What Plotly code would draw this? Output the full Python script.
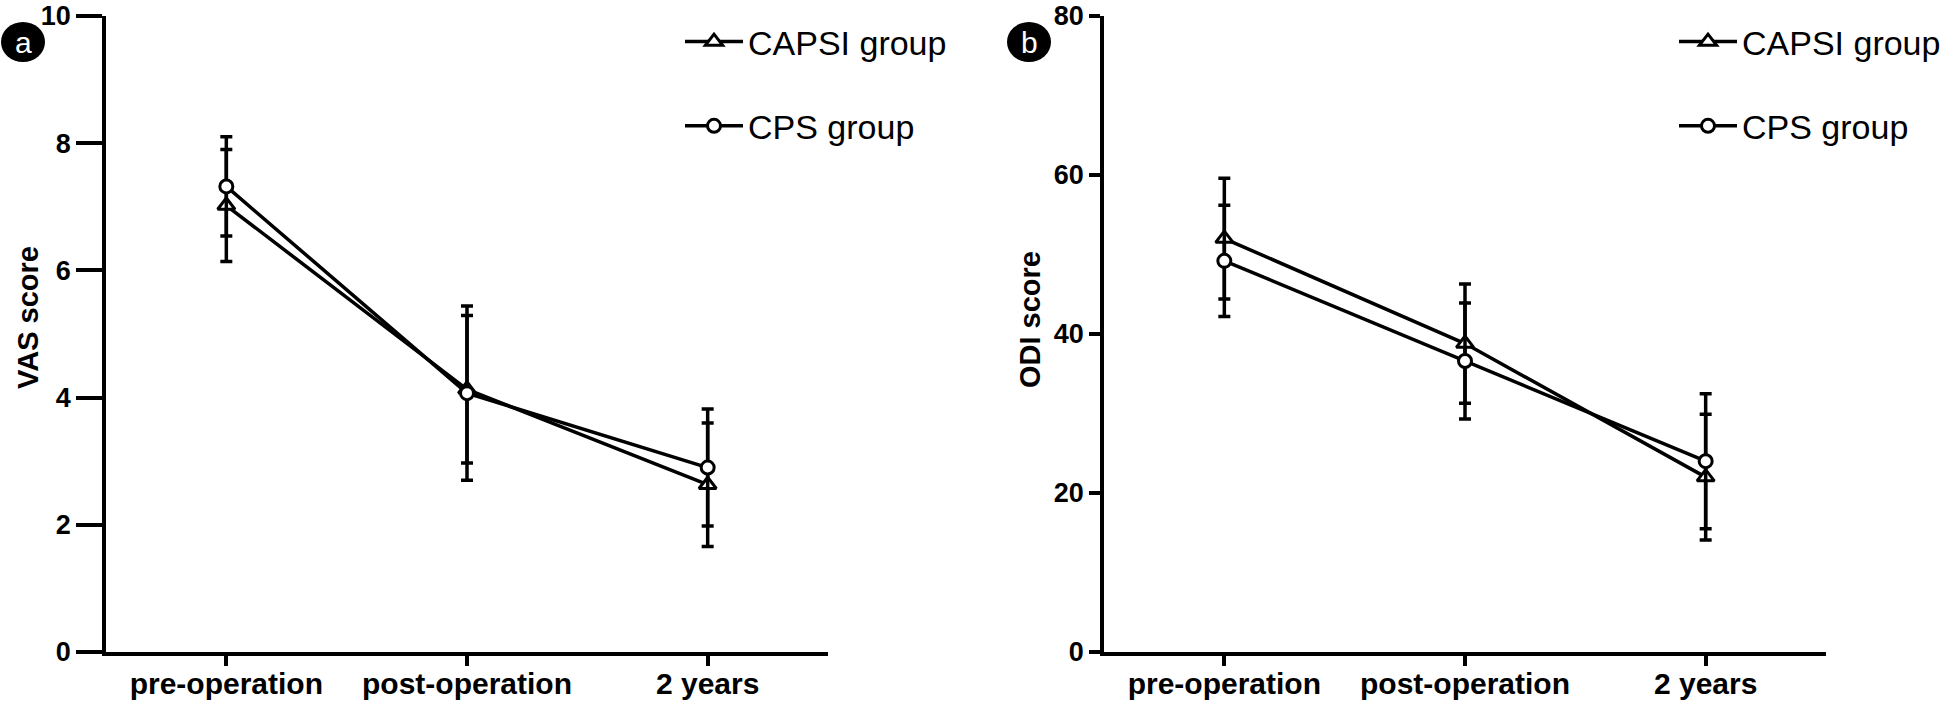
import plotly.graph_objects as go

# time points on the x axis
timepoints = ["pre-operation", "post-operation", "2 years"]
tp_index = [0, 1, 2]

# VAS score (mean and sd)
vas_capsi = [7.02, 4.13, 2.63]
vas_capsi_sd = [0.88, 1.16, 0.97]
vas_cps = [7.32, 4.07, 2.90]
vas_cps_sd = [0.78, 1.37, 0.92]

# ODI score (mean and sd)
odi_capsi = [52.0, 38.8, 22.0]
odi_capsi_sd = [7.6, 7.5, 7.9]
odi_cps = [49.2, 36.6, 24.0]
odi_cps_sd = [7.0, 7.3, 8.5]

W, H = 1946, 705
FONT = "Liberation Sans, Arial, sans-serif"

tri = dict(symbol="triangle-up", size=15, color="white", line=dict(color="black", width=3))
circ = dict(symbol="circle", size=13, color="white", line=dict(color="black", width=3))
ln = dict(color="black", width=3.5)


def err(sd):
    return dict(type="data", array=sd, visible=True, color="black", thickness=3.5, width=6)


fig = go.Figure()

##panel a
fig.add_trace(go.Scatter(x=tp_index, y=vas_capsi, error_y=err(vas_capsi_sd), mode="lines+markers",
                         name="CAPSI group", line=ln, marker=tri,
                         xaxis="x", yaxis="y", legend="legend", legendgroup="a1"))
fig.add_trace(go.Scatter(x=tp_index, y=vas_cps, error_y=err(vas_cps_sd), mode="lines+markers",
                         name="CPS group", line=ln, marker=circ,
                         xaxis="x", yaxis="y", legend="legend", legendgroup="a2"))

##panel b
fig.add_trace(go.Scatter(x=tp_index, y=odi_capsi, error_y=err(odi_capsi_sd), mode="lines+markers",
                         name="CAPSI group", line=ln, marker=tri,
                         xaxis="x2", yaxis="y2", legend="legend2", legendgroup="b1"))
fig.add_trace(go.Scatter(x=tp_index, y=odi_cps, error_y=err(odi_cps_sd), mode="lines+markers",
                         name="CPS group", line=ln, marker=circ,
                         xaxis="x2", yaxis="y2", legend="legend2", legendgroup="b2"))

ydom = [(H - 652) / H, (H - 16) / H]


def xax(x0, x1, anchor):
    return dict(domain=[x0 / W, x1 / W], anchor=anchor, range=[-0.5, 2.5], automargin=False,
                tickvals=tp_index, ticktext=timepoints, ticks="outside", ticklen=10,
                tickwidth=3.5, tickcolor="black", showline=True, linewidth=3.5, linecolor="black",
                showgrid=False, zeroline=False, ticklabeloverflow="allow", ticklabelstandoff=-8,
                tickfont=dict(family=FONT, size=30, color="black", weight="bold"))


def yax(rng, dtick, ticklen, anchor):
    return dict(domain=ydom, anchor=anchor, range=rng, dtick=dtick, automargin=False,
                ticks="outside", ticklen=ticklen,
                tickwidth=3.5, tickcolor="black", showline=True, linewidth=3.5, linecolor="black",
                showgrid=False, zeroline=False, ticklabeloverflow="allow",
                tickfont=dict(family=FONT, size=27, color="black", weight="bold"))


leg = dict(font=dict(family=FONT, size=34, color="black"), bgcolor="rgba(0,0,0,0)",
           tracegroupgap=37, itemwidth=58, yanchor="top", y=1 - 13 / H)

fig.update_layout(
    width=W, height=H,
    margin=dict(l=0, r=0, t=0, b=0, autoexpand=False),
    paper_bgcolor="white", plot_bgcolor="white",
    xaxis=xax(106, 828, "y"),
    yaxis=yax([0, 10], 2, 26, "x"),
    xaxis2=xax(1104, 1826, "y2"),
    yaxis2=yax([0, 80], 20, 11, "x2"),
    legend=dict(leg, x=680 / W, xanchor="left"),
    legend2=dict(leg, x=1.0, xanchor="right"),
)

# y axis titles
for cx, cy, title in [(28, 318, "VAS score"), (1030, 320, "ODI score")]:
    fig.add_annotation(x=cx / W, y=1 - cy / H, xref="paper", yref="paper", text=title,
                       xanchor="center", yanchor="middle", textangle=-90, showarrow=False,
                       font=dict(family=FONT, size=29, color="black", weight="bold"))

# panel letters in black discs
for cx, letter in [(23, "a"), (1029, "b")]:
    fig.add_shape(type="circle", xref="paper", yref="paper", layer="below",
                  x0=(cx - 22) / W, x1=(cx + 22) / W, y0=1 - 62 / H, y1=1 - 22 / H,
                  fillcolor="black", line=dict(color="black", width=0))
    fig.add_annotation(x=cx / W, y=1 - 43 / H, xref="paper", yref="paper", text=letter,
                       xanchor="center", yanchor="middle", showarrow=False,
                       font=dict(family=FONT, size=30, color="white"))

# drop the default page margin so the figure fills the window exactly
fig.write_html("out.html", config={"displayModeBar": False},
               post_script="document.body.style.margin='0';")
